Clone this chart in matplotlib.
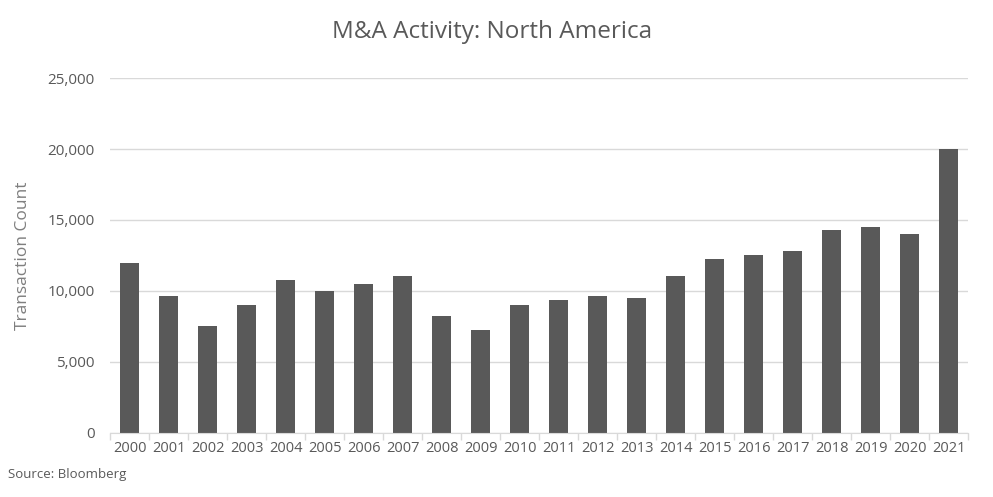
import matplotlib
matplotlib.use("Agg")
import matplotlib.pyplot as plt
from matplotlib.ticker import FuncFormatter, FixedLocator
import numpy as np

years = [str(y) for y in range(2000, 2022)]
counts = [12000, 9640, 7530, 9040, 10760, 10000, 10510, 11020, 8260, 7280,
          9040, 9390, 9640, 9480, 11020, 12270, 12520, 12780, 14300, 14470,
          14000, 20000]
yticks = [0, 5000, 10000, 15000, 20000, 25000]

plt.rcParams['font.family'] = ['Open Sans', 'DejaVu Sans']
txt = '#595959'

fig = plt.figure(figsize=(9.93, 4.97), dpi=100)
ax = fig.add_axes([0.111, 0.129, 0.864, 0.714])
x = np.arange(len(years))
ax.bar(x, counts, width=0.5, color='#595959', zorder=3)
ax.set_xlim(-0.5, len(years) - 0.5)
ax.set_ylim(0, 25000)
ax.set_yticks(yticks)
ax.yaxis.set_major_formatter(FuncFormatter(lambda v, p: f"{int(v):,}"))
ax.grid(axis='y', color='#d9d9d9', linewidth=1, zorder=0)
ax.set_xticks(x)
ax.set_xticklabels(years)
ax.xaxis.set_minor_locator(FixedLocator(np.arange(-0.5, len(years), 1.0)))
ax.tick_params(axis='x', which='major', length=0, pad=6, labelsize=10.5, colors=txt)
ax.tick_params(axis='x', which='minor', length=5, color='#d9d9d9', width=1)
ax.tick_params(axis='y', length=0, pad=11, labelsize=11, colors=txt)
for s in ['top', 'right', 'left']:
    ax.spines[s].set_visible(False)
ax.spines['bottom'].set_color('#d9d9d9')
ax.spines['bottom'].set_zorder(4)
ax.set_ylabel('Transaction Count', fontsize=12.5, color='#7f7f7f', labelpad=12)
fig.text(0.496, 0.935, 'M&A Activity: North America', ha='center', va='center',
         fontsize=17.5, color=txt)
fig.text(0.008, 0.045, 'Source: Bloomberg', ha='left', va='center', fontsize=9.5, color=txt)
fig.savefig('out.png', dpi=100)
